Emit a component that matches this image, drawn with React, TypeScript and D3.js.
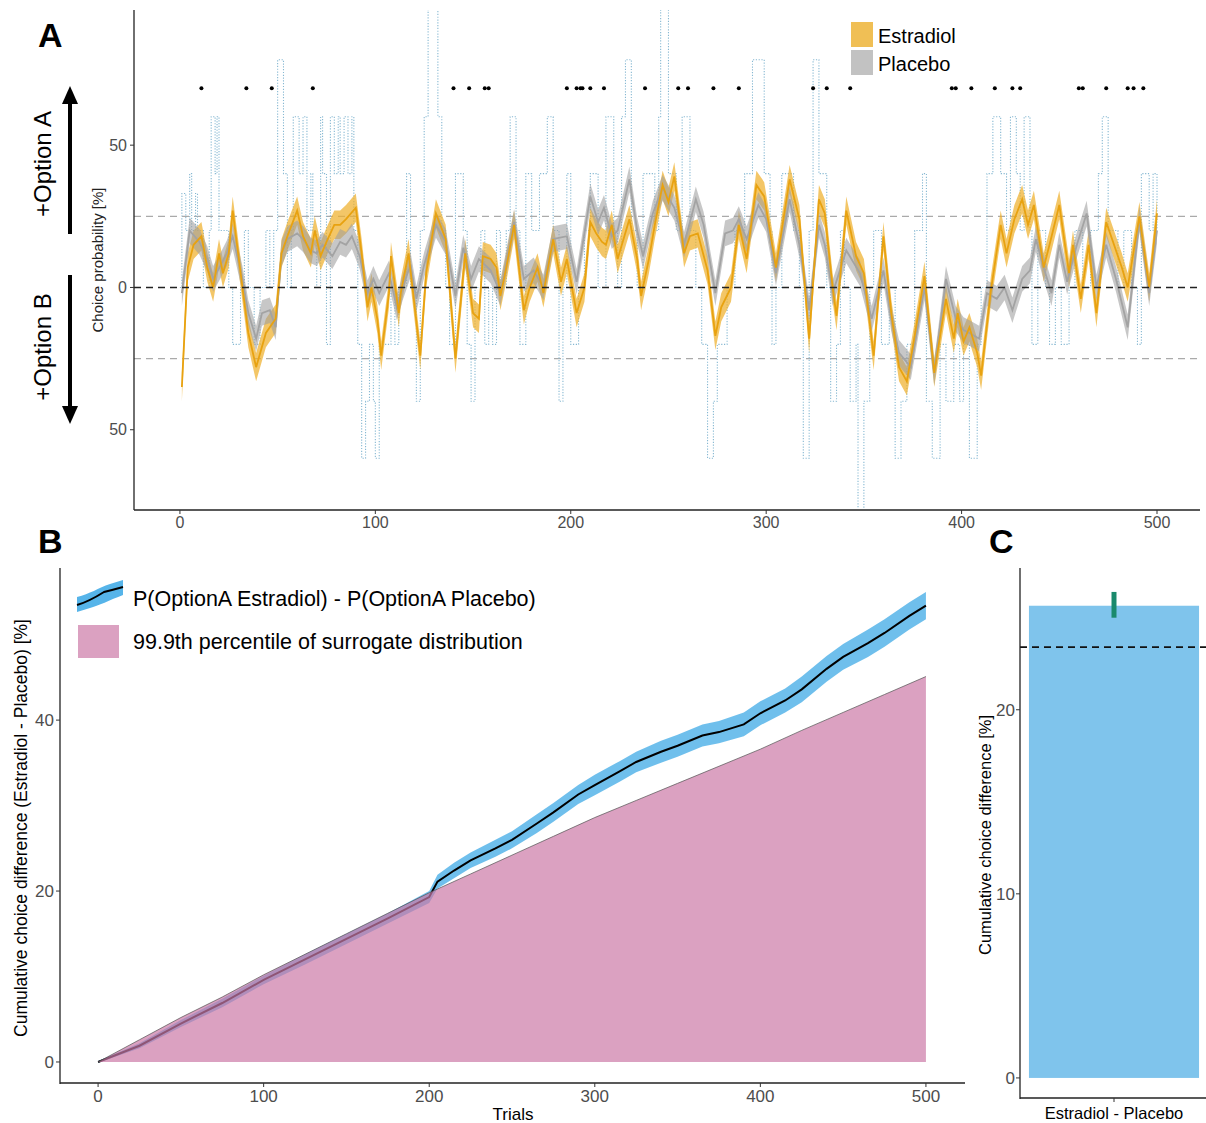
import React from 'react';
import * as d3 from 'd3';

// ---- Panel A: sliding-window choice probability (trial, % toward option A) ----
const estradiolMean: [number, number][] = [
  [1, -35], [4, 7], [7, 15], [11, 18], [14, 7], [17, 0], [20, 12], [22, 5], [25, 12], [27, 27],
  [32, 0], [35, -16], [39, -28], [44, -16], [46, -14], [49, -11], [52, 12], [55, 18], [60, 27], [63, 18],
  [67, 12], [69, 20], [72, 11], [75, 16], [79, 22], [82, 22], [85, 24], [90, 28], [93, 12], [96, -7],
  [98, 0], [101, -11], [103, -24], [107, -2], [108, 11], [112, -9], [113, -2], [117, 12], [119, 0], [123, -24],
  [126, 5], [131, 26], [136, 17], [141, -25], [146, 12], [150, -9], [153, -11], [155, 11], [159, 10], [162, 7],
  [164, -3], [167, 7], [171, 22], [176, -8], [179, 0], [183, 7], [186, -2], [191, 17], [195, 2], [198, 10],
  [203, -9], [207, 0], [210, 23], [213, 19], [216, 16], [218, 15], [221, 22], [224, 10], [230, 24], [234, 10],
  [236, -3], [240, 10], [243, 22], [247, 36], [250, 30], [253, 39], [258, 12], [261, 18], [265, 19], [270, 6],
  [274, -17], [277, -7], [282, 0], [286, 22], [290, 10], [295, 36], [299, 32], [305, 7], [312, 38], [317, 24],
  [322, -18], [327, 31], [330, 26], [334, 0], [336, -10], [341, 27], [346, 11], [350, 5], [355, -24], [360, 18],
  [364, -9], [368, -28], [372, -33], [376, -17], [381, 4], [386, -30], [392, -4], [396, -18], [398, -9], [401, -19],
  [404, -14], [408, -23], [410, -31], [415, -1], [420, 22], [423, 12], [427, 24], [431, 31], [434, 22], [437, 29],
  [442, 7], [445, 15], [450, 29], [455, 5], [457, 15], [461, -4], [465, 15], [469, -9], [474, 23], [478, 15],
  [482, 7], [485, 0], [491, 25], [496, 0], [500, 26],
];

const placeboMean: [number, number][] = [
  [1, -2], [5, 20], [10, 16], [14, 10], [17, 3], [21, 8], [24, 12], [27, 18], [32, 3], [35, -9],
  [39, -18], [42, -9], [46, -8], [49, -14], [52, 12], [55, 17], [60, 19], [63, 17], [67, 13], [70, 12],
  [73, 15], [78, 11], [82, 16], [85, 15], [88, 18], [92, 11], [96, -2], [99, 3], [102, -2], [107, 5],
  [111, -7], [114, 0], [118, 8], [121, -4], [125, 8], [131, 22], [136, 16], [141, -3], [145, 14], [149, 3],
  [153, 10], [159, 6], [164, -2], [171, 23], [176, 3], [181, 6], [186, 0], [191, 17], [198, 18], [203, 2],
  [210, 32], [214, 23], [217, 28], [221, 18], [224, 20], [230, 38], [234, 20], [237, 11], [242, 26], [247, 35],
  [253, 28], [258, 15], [264, 31], [268, 22], [274, -2], [279, 19], [283, 20], [286, 24], [290, 17], [296, 29],
  [300, 24], [305, 5], [312, 31], [317, 15], [322, -8], [327, 22], [330, 15], [334, -2], [341, 13], [348, 5],
  [354, -11], [360, 6], [364, -11], [368, -23], [374, -28], [381, 0], [386, -30], [392, 3], [397, -11], [401, -15],
  [404, -16], [409, -18], [413, -2], [418, -4], [422, 0], [426, -8], [431, 3], [435, 6], [438, 17], [442, 7],
  [446, -2], [450, 15], [454, 2], [459, 15], [464, 26], [469, 0], [474, 15], [479, 3], [485, -14], [491, 24],
  [496, -2], [500, 20],
];

const estradiolCI = 5;
const placeboCI = 4.5;

// raw difference (step series, trial where level starts)
const rawDiff: [number, number][] = [
  [0, 0], [1, 33], [3, 20], [5, 40], [6, 20], [8, 33], [9, 20], [12, 0], [15, 20], [16, 60],
  [18, 40], [19, 60], [20, 20], [25, 0], [27, -20], [31, 0], [33, 20], [35, 0], [38, -20], [41, 0],
  [44, 20], [46, 0], [48, 20], [50, 80], [53, 40], [55, 0], [57, 20], [58, 60], [61, 40], [63, 60],
  [65, 20], [67, 40], [68, 20], [70, 0], [72, 60], [73, 40], [75, -20], [77, 60], [79, 40], [81, 60],
  [82, 40], [84, 60], [86, 40], [88, 60], [89, 20], [91, -20], [93, -60], [95, -40], [97, -20], [99, -40],
  [100, -60], [102, -20], [108, 0], [110, -20], [112, 0], [116, 40], [118, 0], [121, -40], [123, 20], [125, 60],
  [127, 100], [132, 60], [134, 20], [136, 0], [138, -20], [141, 40], [145, 20], [147, -20], [149, -40], [151, 0],
  [154, 20], [156, -20], [158, 0], [160, -20], [162, 20], [164, 0], [167, 20], [169, 60], [172, 20], [174, -20],
  [177, 40], [180, 20], [184, 40], [188, 60], [191, 20], [194, -40], [196, 0], [198, 40], [200, -20], [204, 0],
  [207, 20], [210, 40], [214, 0], [218, 60], [222, 20], [224, 0], [226, 60], [228, 80], [231, 20], [234, 0],
  [237, 40], [243, 20], [245, 60], [246, 100], [250, 40], [254, 20], [257, 60], [261, 20], [264, 0], [267, -20],
  [270, -60], [273, -40], [275, -20], [280, 0], [284, 20], [289, 40], [293, 80], [299, 40], [302, 20], [303, -20],
  [305, 0], [308, 40], [314, 20], [317, 0], [319, -60], [322, 20], [324, 80], [327, 40], [331, 0], [333, -40],
  [336, -20], [338, 20], [340, 0], [343, -40], [346, -20], [347, -80], [350, -40], [353, 0], [355, 20], [359, -20],
  [363, 0], [366, -60], [369, -40], [372, -20], [376, 20], [380, 40], [382, -40], [385, -60], [389, -20], [392, -40],
  [396, -20], [399, -40], [401, -20], [404, -60], [408, -20], [410, 0], [413, 40], [416, 60], [420, 40], [423, 20],
  [425, 60], [428, 40], [430, 20], [432, 60], [435, 20], [436, -20], [439, 20], [443, 0], [445, -20], [448, 0],
  [451, -20], [455, 0], [458, 20], [462, 0], [466, 20], [470, 40], [472, 60], [475, 20], [480, 0], [483, 20],
  [487, 0], [490, -20], [492, 40], [496, 20], [498, 40], [500, 20],
];

const sigTrials = [11, 34, 47, 68, 140, 148, 156, 158, 198, 203, 205, 206, 210, 217, 238, 255, 260, 273, 286,
  324, 331, 343, 395, 397, 405, 417, 426, 430, 460, 462, 474, 485, 488, 493];
const sigLevel = 70;

// ---- Panel B: cumulative difference ----
const cumTrials = [0, 25, 50, 75, 100, 125, 150, 175, 200, 225, 250, 275, 300, 325, 350, 375, 400, 425, 450, 475, 500];
const surrogate999 = [0, 2.6, 5.2, 7.6, 10.2, 12.6, 15.0, 17.4, 19.8, 22.0, 24.2, 26.4, 28.6, 30.6, 32.6, 34.6, 36.6, 38.8, 40.9, 43.0, 45.1];
const obsTrials = [0, 25, 50, 75, 100, 125, 150, 175, 200, 205, 215, 225, 240, 250, 265, 275, 290, 300, 315, 325, 340, 350, 365, 375, 390, 400, 415, 425, 440, 450, 465, 475, 490, 500];
const obsDiff = [0, 1.9, 4.5, 6.9, 9.6, 12.0, 14.4, 16.8, 19.3, 21.1, 22.4, 23.6, 25.0, 26.0, 27.9, 29.2, 31.3, 32.4, 34.0, 35.1, 36.3, 37.0, 38.2, 38.6, 39.5, 40.8, 42.3, 43.6, 46.0, 47.4, 49.0, 50.2, 52.2, 53.4];
const obsCI = [0.1, 0.3, 0.4, 0.5, 0.5, 0.6, 0.6, 0.6, 0.7, 0.8, 0.9, 0.9, 1.0, 1.0, 1.1, 1.1, 1.1, 1.2, 1.2, 1.2, 1.3, 1.3, 1.3, 1.3, 1.4, 1.4, 1.4, 1.5, 1.5, 1.5, 1.6, 1.6, 1.6, 1.6];

// ---- Panel C ----
const barLabels = ['Estradiol - Placebo'];
const barValues = [25.65];
const barErrLow = [25.0];
const barErrHigh = [26.4];
const barThreshold = 23.4;

const FONT = '"Liberation Sans", Arial, sans-serif';
const TICK = '#4d4d4d';

export default function App() {
  // panel A scales
  const xA = d3.scaleLinear().domain([-23.5, 522]).range([134, 1200]);
  const yA = d3.scaleLinear().domain([-77.5, 97.5]).range([508, 10]);

  const lineA = d3.line<[number, number]>().x(d => xA(d[0])).y(d => yA(d[1]));
  const bandA = (ci: number) => d3.area<[number, number]>()
    .x(d => xA(d[0])).y0(d => yA(d[1] - ci)).y1(d => yA(d[1] + ci));
  const rawLine = d3.line<[number, number]>().x(d => xA(d[0])).y(d => yA(d[1])).curve(d3.curveStepAfter);

  // panel B scales
  const xB = d3.scaleLinear().domain([-23, 523.6]).range([60, 965]);
  const yB = d3.scaleLinear().domain([-2.46, 57.8]).range([1083, 568]);
  const obsIdx = obsTrials.map((_, i) => i);
  const obsArea = d3.area<number>().x(i => xB(obsTrials[i])).y0(i => yB(obsDiff[i] - obsCI[i])).y1(i => yB(obsDiff[i] + obsCI[i]));
  const obsLine = d3.line<number>().x(i => xB(obsTrials[i])).y(i => yB(obsDiff[i]));
  const surIdx = cumTrials.map((_, i) => i);
  const surArea = d3.area<number>().x(i => xB(cumTrials[i])).y0(yB(0)).y1(i => yB(surrogate999[i]));
  const surLine = d3.line<number>().x(i => xB(cumTrials[i])).y(i => yB(surrogate999[i]));

  // panel C scales
  const xC = d3.scaleBand<string>().domain(barLabels).range([1020, 1208]).paddingInner(0.05).paddingOuter(0.05);
  const yC = d3.scaleLinear().domain([-1.09, 27.7]).range([1098, 568]);

  return (
    <svg width={1206} height={1123} style={{ position: 'absolute', left: 0, top: 0, background: '#fff' }} fontFamily={FONT}>
      <defs>
        <clipPath id="clipA"><rect x={134} y={10} width={1066} height={498} /></clipPath>
      </defs>

      {/* ================= Panel A ================= */}
      <text x={38} y={47} fontSize={34} fontWeight={700} fill="#000">A</text>
      <g clipPath="url(#clipA)">
        <line x1={134} x2={1200} y1={yA(25)} y2={yA(25)} stroke="#aaa" strokeWidth={1.3} strokeDasharray="7,5" />
        <line x1={134} x2={1200} y1={yA(-25)} y2={yA(-25)} stroke="#aaa" strokeWidth={1.3} strokeDasharray="7,5" />
        <path d={rawLine(rawDiff) || ''} fill="none" stroke="#86b8d2" strokeWidth={1.1} strokeDasharray="1.2,1.6" />
        <path d={bandA(estradiolCI)(estradiolMean) || ''} fill="#efb02c" fillOpacity={0.72} />
        <path d={bandA(placeboCI)(placeboMean) || ''} fill="#9e9e9e" fillOpacity={0.58} />
        <path d={lineA(placeboMean) || ''} fill="none" stroke="#a3a3a3" strokeWidth={1.8} />
        <path d={lineA(estradiolMean) || ''} fill="none" stroke="#e8a210" strokeWidth={1.8} />
        <line x1={134} x2={1200} y1={yA(0)} y2={yA(0)} stroke="#222" strokeWidth={1.6} strokeDasharray="7,5" />
        {sigTrials.map((t, i) => (
          <circle key={i} cx={xA(t)} cy={yA(sigLevel)} r={2} fill="#000" />
        ))}
      </g>
      <line x1={134} x2={134} y1={10} y2={510} stroke="#222" strokeWidth={1.3} />
      <line x1={134} x2={1200} y1={510} y2={510} stroke="#222" strokeWidth={1.3} />
      {[-50, 0, 50].map(v => (
        <g key={v}>
          <line x1={130} x2={134} y1={yA(v)} y2={yA(v)} stroke="#333" />
          <text x={127} y={yA(v) + 5.5} fontSize={16} textAnchor="end" fill={TICK}>{Math.abs(v)}</text>
        </g>
      ))}
      {[0, 100, 200, 300, 400, 500].map(v => (
        <g key={v}>
          <line x1={xA(v)} x2={xA(v)} y1={510} y2={514} stroke="#333" />
          <text x={xA(v)} y={528} fontSize={16} textAnchor="middle" fill={TICK}>{v}</text>
        </g>
      ))}
      <text transform="translate(103,260) rotate(-90)" fontSize={15} textAnchor="middle" fill="#222">Choice probability [%]</text>
      <text transform="translate(51,164) rotate(-90)" fontSize={24} textAnchor="middle" fill="#000">+Option A</text>
      <text transform="translate(51,347) rotate(-90)" fontSize={24} textAnchor="middle" fill="#000">+Option B</text>
      <line x1={70} x2={70} y1={234} y2={100} stroke="#000" strokeWidth={4} />
      <path d="M62,104 L70,86 L78,104 Z" fill="#000" />
      <line x1={70} x2={70} y1={275} y2={410} stroke="#000" strokeWidth={4} />
      <path d="M62,406 L70,424 L78,406 Z" fill="#000" />
      {/* legend A */}
      <rect x={851} y={22} width={22} height={25} fill="#f0bf55" />
      <rect x={851} y={50} width={22} height={25} fill="#c2c2c2" />
      <text x={878} y={43} fontSize={20} fill="#000">Estradiol</text>
      <text x={878} y={71} fontSize={20} fill="#000">Placebo</text>

      {/* ================= Panel B ================= */}
      <text x={38} y={553} fontSize={34} fontWeight={700} fill="#000">B</text>
      <path d={obsArea(obsIdx) || ''} fill="#56b4e9" fillOpacity={0.85} />
      <path d={obsLine(obsIdx) || ''} fill="none" stroke="#000" strokeWidth={2} />
      <path d={surArea(surIdx) || ''} fill="#cc79a7" fillOpacity={0.7} />
      <path d={surLine(surIdx) || ''} fill="none" stroke="#555" strokeWidth={0.9} strokeOpacity={0.8} />
      <line x1={60} x2={60} y1={568} y2={1084} stroke="#222" strokeWidth={1.3} />
      <line x1={60} x2={965} y1={1083} y2={1083} stroke="#222" strokeWidth={1.3} />
      {[0, 20, 40].map(v => (
        <g key={v}>
          <line x1={56} x2={60} y1={yB(v)} y2={yB(v)} stroke="#333" />
          <text x={54} y={yB(v) + 6} fontSize={17} textAnchor="end" fill={TICK}>{v}</text>
        </g>
      ))}
      {[0, 100, 200, 300, 400, 500].map(v => (
        <g key={v}>
          <line x1={xB(v)} x2={xB(v)} y1={1083} y2={1087} stroke="#333" />
          <text x={xB(v)} y={1102} fontSize={17} textAnchor="middle" fill={TICK}>{v}</text>
        </g>
      ))}
      <text x={513} y={1120} fontSize={17} textAnchor="middle" fill="#000">Trials</text>
      <text transform="translate(27,828) rotate(-90)" fontSize={17.5} textAnchor="middle" fill="#000">Cumulative choice difference (Estradiol - Placebo) [%]</text>
      {/* legend B */}
      <path d="M77,597 C90,594 98,588 110,584 L123,580 L123,595 C110,600 98,606 90,608 L77,612 Z" fill="#56b4e9" />
      <path d="M77,605 C88,602 96,597 104,592 L112,590 L123,587" fill="none" stroke="#000" strokeWidth={2} />
      <text x={133} y={606} fontSize={21.5} fill="#000">P(OptionA Estradiol) - P(OptionA Placebo)</text>
      <rect x={78} y={625} width={41} height={33} fill="#cc79a7" fillOpacity={0.7} />
      <text x={133} y={649} fontSize={21.5} fill="#000">99.9th percentile of surrogate distribution</text>

      {/* ================= Panel C ================= */}
      <text x={989} y={553} fontSize={34} fontWeight={700} fill="#000">C</text>
      {barLabels.map((l, i) => (
        <g key={l}>
          <rect x={xC(l)} y={yC(barValues[i])} width={xC.bandwidth()} height={yC(0) - yC(barValues[i])} fill="#7fc4ec" />
          <line x1={(xC(l) || 0) + xC.bandwidth() / 2} x2={(xC(l) || 0) + xC.bandwidth() / 2}
            y1={yC(barErrLow[i])} y2={yC(barErrHigh[i])} stroke="#1a8a6c" strokeWidth={5} />
        </g>
      ))}
      <line x1={1020} x2={1206} y1={yC(barThreshold)} y2={yC(barThreshold)} stroke="#111" strokeWidth={1.6} strokeDasharray="7,5" />
      <line x1={1020} x2={1020} y1={568} y2={1099} stroke="#222" strokeWidth={1.3} />
      <line x1={1020} x2={1206} y1={1098} y2={1098} stroke="#222" strokeWidth={1.3} />
      {[0, 10, 20].map(v => (
        <g key={v}>
          <line x1={1016} x2={1020} y1={yC(v)} y2={yC(v)} stroke="#333" />
          <text x={1015} y={yC(v) + 6} fontSize={17} textAnchor="end" fill={TICK}>{v}</text>
        </g>
      ))}
      {barLabels.map(l => (
        <g key={l}>
          <line x1={(xC(l) || 0) + xC.bandwidth() / 2} x2={(xC(l) || 0) + xC.bandwidth() / 2} y1={1098} y2={1102} stroke="#333" />
          <text x={(xC(l) || 0) + xC.bandwidth() / 2} y={1119} fontSize={16.5} textAnchor="middle" fill="#000">{l}</text>
        </g>
      ))}
      <text transform="translate(991,835) rotate(-90)" fontSize={16.5} textAnchor="middle" fill="#000">Cumulative choice difference [%]</text>
    </svg>
  );
}
